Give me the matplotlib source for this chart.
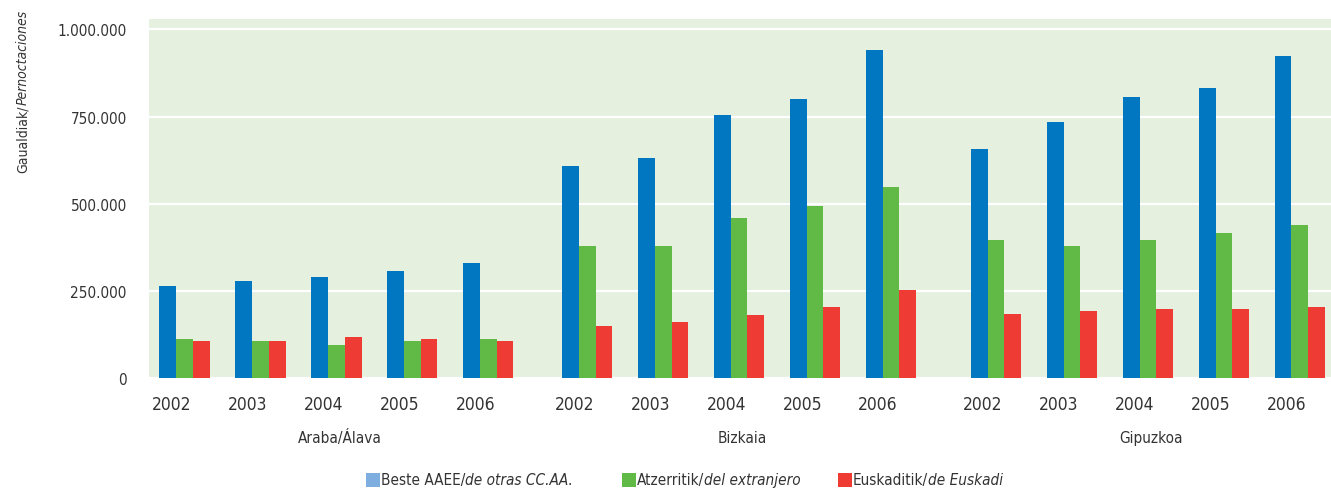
import numpy as np
import matplotlib
matplotlib.use('Agg')
from matplotlib import pyplot as plt
from matplotlib.patches import Rectangle
from matplotlib.ticker import FuncFormatter

# Data
provinces = ['Araba/Álava', 'Bizkaia', 'Gipuzkoa']
years = ['2002', '2003', '2004', '2005', '2006']

beste_aaee = [263000, 278000, 289000, 306000, 329000,
              608000, 631000, 755000, 801000, 942000,
              657000, 735000, 807000, 833000, 925000]
atzerritik = [111000, 105000, 96000, 105000, 111000,
              378000, 378000, 459000, 493000, 548000,
              395000, 378000, 395000, 415000, 438000]
euskaditik = [105000, 105000, 119000, 111000, 105000,
              148000, 162000, 180000, 203000, 252000,
              185000, 191000, 197000, 197000, 203000]

# legend labels: (plain part, italic part)
series_labels = [('Beste AAEE/', 'de otras CC.AA.'),
                 ('Atzerritik/', 'del extranjero'),
                 ('Euskaditik/', 'de Euskadi')]
y_label = ('Gaualdiak/', 'Pernoctaciones')
y_ticks = [0, 250000, 500000, 750000, 1000000]

# Style
blue = '#0077c0'
green = '#62ba46'
red = '#ee3b33'
legend_blue = '#7eaddf'
bg = '#e5f0df'
text_col = '#333333'

plt.rcParams['font.family'] = ['DejaVu Sans']
plt.rcParams['font.stretch'] = 'condensed'
plt.rcParams['text.color'] = text_col

W, H = 1331, 489

# Layout of the groups (year slot = 1 unit)
group_offsets = [0.0, 5.30, 10.68]
x = np.concatenate([off + np.arange(len(years)) for off in group_offsets])
w = 0.22

fig = plt.figure(figsize=(W / 100, H / 100), dpi=100)
ax = fig.add_axes([149 / W, 110 / H, 1 - 149 / W, 359 / H])
ax.set_facecolor(bg)

ax.bar(x - w, beste_aaee, width=w, color=blue, zorder=3)
ax.bar(x, atzerritik, width=w, color=green, zorder=3)
ax.bar(x + w, euskaditik, width=w, color=red, zorder=3)

ax.set_xlim(-0.467, 15.09)
ax.set_ylim(0, 1030000)
ax.set_yticks(y_ticks)
ax.yaxis.set_major_formatter(FuncFormatter(lambda v, p: f'{int(v):,}'.replace(',', '.')))
ax.grid(axis='y', color='white', linewidth=1.6, zorder=1)
ax.tick_params(axis='y', length=0, pad=16, labelsize=11, labelcolor=text_col)

ax.set_xticks(x - 0.17)
ax.set_xticklabels(years * len(provinces))
ax.tick_params(axis='x', length=0, pad=12, labelsize=12.5, labelcolor=text_col)

for s in ax.spines.values():
    s.set_visible(False)

for i, prov in enumerate(provinces):
    ax.text(group_offsets[i] + 2 + 0.04, -0.165, prov, transform=ax.get_xaxis_transform(),
            ha='center', va='center', fontsize=11, color=text_col)

renderer = fig.canvas.get_renderer()

# y label: italic part on top, plain part below it (text reads bottom to top)
t_it = fig.text(23 / W, 1 - 10 / H, y_label[1], rotation=90, ha='center', va='top',
                fontsize=10, style='italic')
bb = t_it.get_window_extent(renderer)
fig.text(23 / W, bb.y0 / H, y_label[0], rotation=90, ha='center', va='top', fontsize=10)

# legend, drawn item by item
legend_colors = [legend_blue, green, red]
legend_x = [366, 622, 838]
legend_y = 481
for (plain, ital), col, lx in zip(series_labels, legend_colors, legend_x):
    fig.add_artist(Rectangle((lx / W, (H - legend_y - 7) / H), 14 / W, 14 / H,
                             transform=fig.transFigure, color=col, lw=0))
    t1 = fig.text((lx + 15) / W, (H - legend_y) / H, plain, ha='left', va='center', fontsize=11)
    bb = t1.get_window_extent(renderer)
    fig.text(bb.x1 / W, (H - legend_y) / H, ital, ha='left', va='center', fontsize=11,
             style='italic')

fig.savefig('out.png', dpi=100)
